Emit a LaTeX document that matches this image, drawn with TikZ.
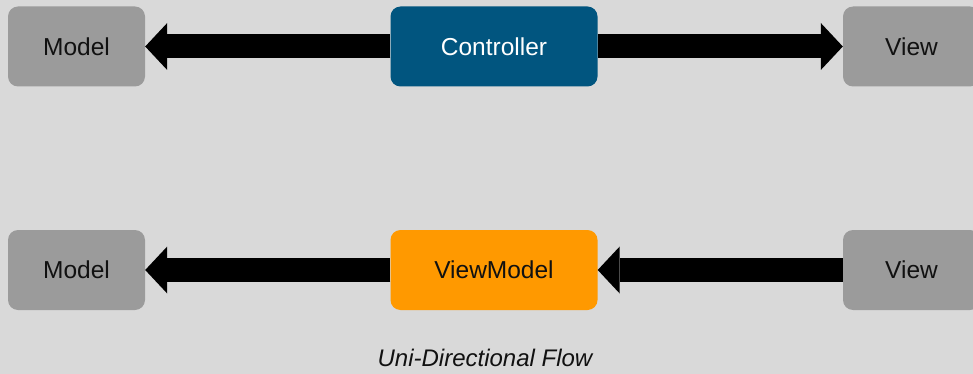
\documentclass[tikz,border=0pt]{standalone}
\usepackage{fontspec}
\setmainfont{Liberation Sans}
\usetikzlibrary{arrows.meta}

\definecolor{canvas}{HTML}{D9D9D9}
\definecolor{boxgray}{HTML}{9B9B9B}
\definecolor{navy}{HTML}{01557F}
\definecolor{amber}{HTML}{FF9900}
\definecolor{ink}{HTML}{111111}

\tikzset{
  box/.style={rectangle, rounded corners=10pt, minimum height=80pt, inner sep=0pt,
              font=\fontsize{24.5}{28}\selectfont},
  side/.style={box, fill=boxgray, text=ink, minimum width=137pt},
  centre/.style={box, minimum width=207pt},
  flow/.style={line width=24pt, draw=black,
               -{Triangle[length=22pt, width=47pt, line width=0pt]}},
}

\begin{document}
\begin{tikzpicture}[x=1pt, y=-1pt]
  \fill[canvas] (0,0) rectangle (973,374);
  \clip (0,0) rectangle (973,374);
  \useasboundingbox (0,0) rectangle (973,374);

  % MVC row
  \node[side] (m1) at (76.5,46.5) {Model};
  \node[centre, fill=navy, text=white] (ctl) at (494,46.5) {Controller};
  \node[side] (v1) at (911.5,46.5) {View};

  % MVVM row
  \node[side] (m2) at (76.5,270) {Model};
  \node[centre, fill=amber, text=ink] (vm) at (494,270) {ViewModel};
  \node[side] (v2) at (911.5,270) {View};

  \draw[flow] (ctl.west) -- (m1.east);
  \draw[flow] (ctl.east) -- (v1.west);
  \draw[flow] (vm.west) -- (m2.east);
  \draw[flow] (v2.west) -- (vm.east);

  \node[anchor=base, text=ink, font=\fontsize{24}{28}\selectfont\itshape] (cap)
    at (485,366.5) {Uni-Directional Flow};
\end{tikzpicture}
\end{document}
